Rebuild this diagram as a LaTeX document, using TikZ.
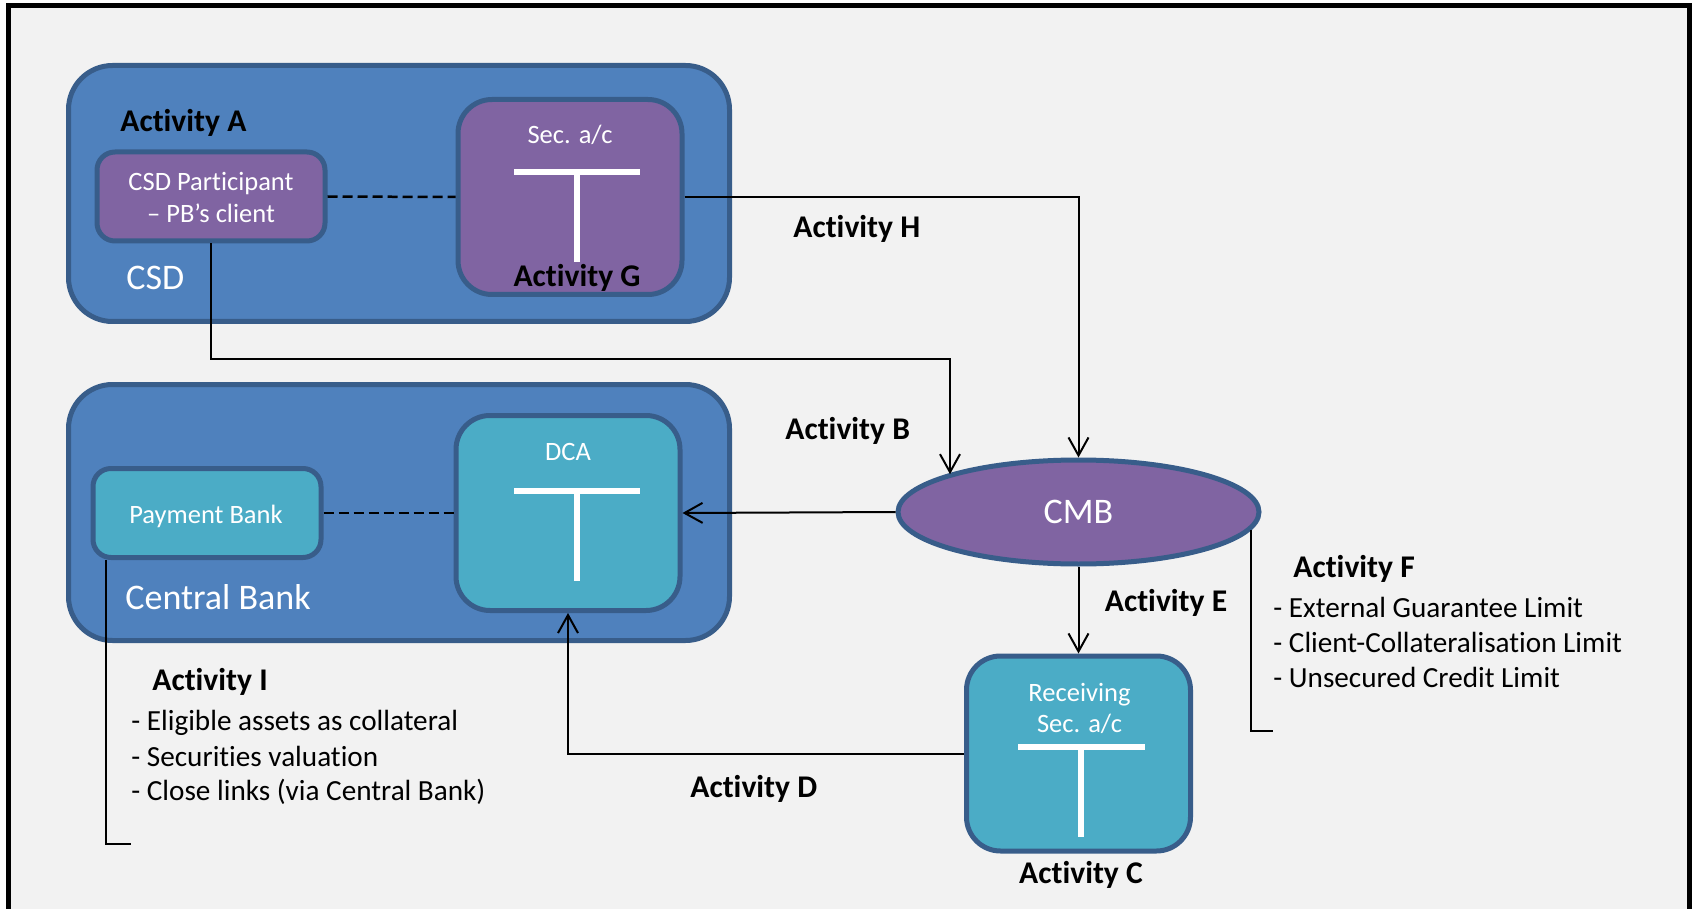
\documentclass[tikz,border=0pt]{standalone}
\usepackage{fontspec}
\setmainfont{Carlito}[Ligatures={NoCommon,NoContextual}]
\usetikzlibrary{arrows.meta,shapes.geometric}
\definecolor{bgc}{HTML}{F2F2F2}
\definecolor{bluef}{HTML}{4F81BD}
\definecolor{edgec}{HTML}{385D8A}
\definecolor{purp}{HTML}{8064A2}
\definecolor{tealc}{HTML}{4BACC6}
\begin{document}
\begin{tikzpicture}[x=0.5pt,y=-0.5pt,
  outerbox/.style={draw=edgec, line width=2.5pt, fill=bluef, rounded corners=22pt, minimum width=330.5pt, minimum height=128pt, inner sep=0pt},
  smallbox/.style={draw=edgec, line width=2.5pt, rounded corners=9pt, minimum width=114pt, minimum height=44.5pt, inner sep=0pt},
  acct/.style={draw=edgec, line width=2.5pt, rounded corners=17pt, minimum width=112pt, minimum height=97.5pt, inner sep=0pt},
  tbar/.style={white, line width=3pt},
  act/.style={font=\fontsize{15.8}{19}\selectfont\bfseries, inner sep=0pt, text=black},
  boxtxt/.style={font=\fontsize{13.25}{16}\selectfont, text=white, inner sep=0pt},
  bigtxt/.style={font=\fontsize{18}{22}\selectfont, text=white, inner sep=0pt},
  listtxt/.style={font=\fontsize{14.6}{17.5}\selectfont, inner sep=0pt, text=black},
  conn/.style={line width=1pt},
  arr/.style={conn, -{Straight Barb[length=9pt,width=10pt]}},
  dashline/.style={line width=1.25pt, dash pattern=on 5pt off 2.5pt}
]
\useasboundingbox (0,0) rectangle (1692,909);
\fill[white] (0,0) rectangle (1692,909);
\fill[bgc] (8,6) rectangle (1689.5,909);
\draw[line width=2.5pt, line join=miter] (8,915) -- (8,6) -- (1689.5,6) -- (1689.5,915);

% containers
\node[outerbox] (csd) at (399,193.5) {};
\node[outerbox] (cb) at (399,512.5) {};

% inner boxes
\node[smallbox, fill=purp] (csdp) at (211,196.5) {};
\node[acct, fill=purp] (sec) at (570,197) {};
\node[smallbox, fill=tealc] (pb) at (207,513) {};
\node[acct, fill=tealc] (dca) at (568,513) {};
\node[acct, fill=tealc] (recv) at (1078.5,753.5) {};
\node[ellipse, draw=edgec, line width=2.5pt, fill=purp, minimum width=180.5pt, minimum height=52pt, inner sep=0pt, bigtxt] (cmb) at (1078.5,512) {CMB};

% T bars
\draw[tbar] (514,172) -- (640,172);
\draw[tbar] (577,172) -- (577,262);
\draw[tbar] (514,491) -- (640,491);
\draw[tbar] (577,491) -- (577,581);
\draw[tbar] (1018,747) -- (1145,747);
\draw[tbar] (1081,747) -- (1081,837);

% texts in boxes
\node[boxtxt, anchor=base] (t1) at (211,191) {CSD Participant};
\node[boxtxt, anchor=base] (t2) at (211,222.5) {– PB’s client};
\node[bigtxt, anchor=base west] (t3) at (126,290) {CSD};
\node[boxtxt, anchor=base] (t4) at (570,144) {Sec. a/c};
\node[boxtxt, anchor=base] (t5) at (206,523) {Payment Bank};
\node[boxtxt, anchor=base] (t6) at (568,460) {DCA};
\node[bigtxt, anchor=base west] (t7) at (125,609) {Central Bank};
\node[boxtxt, anchor=base] (t8) at (1079.5,701) {Receiving};
\node[boxtxt, anchor=base] (t9) at (1079.5,732) {Sec. a/c};

% activity labels
\node[act, anchor=base west] (aA) at (120,132) {Activity A};
\node[act, anchor=base] (aG) at (577,286) {Activity G};
\node[act, anchor=base west] (aH) at (793,237.5) {Activity H};
\node[act, anchor=base west] (aB) at (785,439) {Activity B};
\node[act, anchor=base west] (aI) at (152,690) {Activity I};
\node[act, anchor=base west] (aE) at (1104.5,611) {Activity E};
\node[act, anchor=base west] (aD) at (690,797) {Activity D};
\node[act, anchor=base] (aC) at (1081,883) {Activity C};
\node[act, anchor=base west] (aF) at (1293,577) {Activity F};

% lists
\node[listtxt, anchor=base west] (i1) at (131,730.5) {- Eligible assets as collateral};
\node[listtxt, anchor=base west] (i2) at (131,766) {- Securities valuation};
\node[listtxt, anchor=base west] (i3) at (131,800.5) {- Close links (via Central Bank)};
\node[listtxt, anchor=base west] (f1) at (1273,617.7) {- External Guarantee Limit};
\node[listtxt, anchor=base west] (f2) at (1273,652.7) {- Client-Collateralisation Limit};
\node[listtxt, anchor=base west] (f3) at (1273,687.3) {- Unsecured Credit Limit};

% connectors
\draw[dashline] (csdp.east) -- (sec.west);
\draw[dashline] (pb.east) -- (dca.west);
\draw[arr] (sec.east) -| (cmb.north);
\coordinate (Bbend) at (950,359);
\draw[arr] (csdp.south) |- (Bbend) -- (Bbend |- cmb.164);
\draw[arr] (cmb.west) -- (dca.east);
\draw[arr] (cmb.south) -- (recv.north);
\draw[arr] (recv.west) -| (dca.south);
\coordinate (Fend) at (1273,731);
\draw[conn] (cmb.-6) |- (Fend);
\coordinate (Iend) at (131,844);
\draw[conn] ([xshift=7.5pt]pb.south west) |- (Iend);
\end{tikzpicture}
\end{document}
